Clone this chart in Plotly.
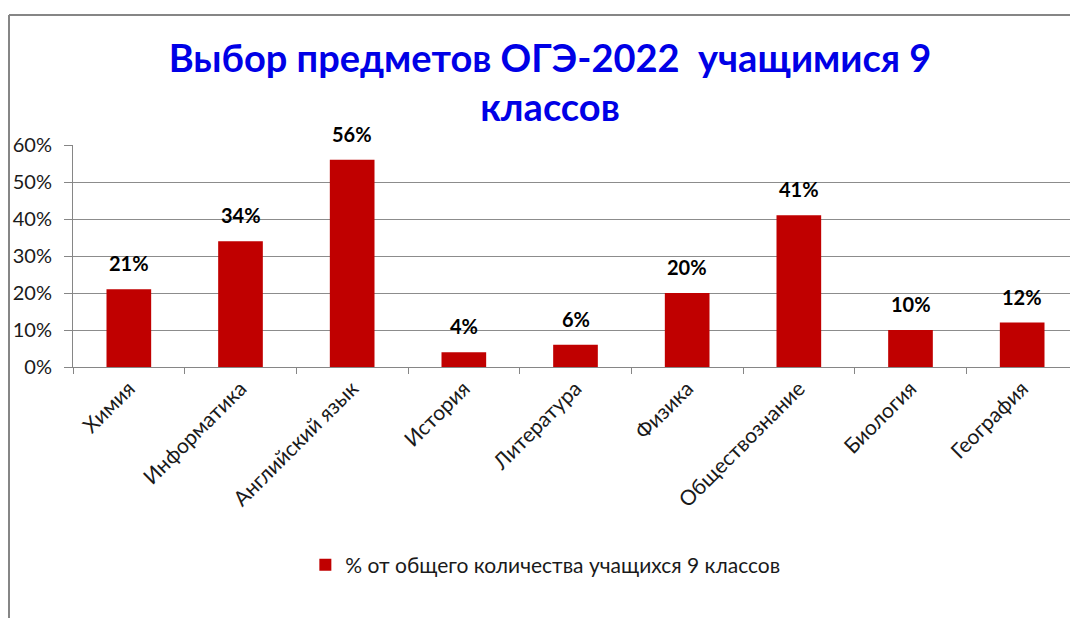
import plotly.graph_objects as go

categories = ["Химия", "Информатика", "Английский язык", "История", "Литература",
              "Физика", "Обществознание", "Биология", "География"]
values = [0.21, 0.34, 0.56, 0.04, 0.06, 0.20, 0.41, 0.10, 0.12]
series_name = "% от общего количества учащихся 9 классов"
title_text = "Выбор предметов ОГЭ-2022  учащимися 9<br>классов"
y_ticks = [0, 0.1, 0.2, 0.3, 0.4, 0.5, 0.6]
y_tick_labels = ["0%", "10%", "20%", "30%", "40%", "50%", "60%"]

FONT = "Lato"
OFF = 8  # page body margin
W, H = 1078 - OFF, 626 - 2 * OFF
L, R, T = 73 - OFF, 0, 145 - OFF
B = H - (367 - OFF)
pw = W - L - R
ph = H - T - B

fig = go.Figure()
fig.add_trace(go.Bar(
    x=categories, y=values, name=series_name,
    marker=dict(color="#C00000", line=dict(width=0)),
    showlegend=True,
))

for c, v in zip(categories, values):
    fig.add_annotation(x=c, y=v, text=f"<b>{round(v*100)}%</b>", showarrow=False,
                       yanchor="bottom", yshift=12,
                       font=dict(family=FONT, size=20, color="#000000"))

# outer chart border (left and top edges visible in the reference)
bx = (1 - L) / pw
by = (H - B - 7) / ph
fig.add_shape(type="line", xref="paper", yref="paper", x0=bx, x1=1.0, y0=by, y1=by,
              line=dict(color="#868686", width=2), layer="below")
fig.add_shape(type="line", xref="paper", yref="paper", x0=bx, x1=bx, y0=by, y1=-B / ph,
              line=dict(color="#868686", width=2), layer="below")

fig.update_layout(
    width=W, height=H,
    margin=dict(l=L, r=R, t=T, b=B, autoexpand=False),
    paper_bgcolor="white", plot_bgcolor="white",
    bargap=0.6,
    title=dict(text=f"<b>{title_text}</b>", x=(550 - 73) / (1078 - 73), xref="paper", xanchor="center",
               y=1 - 64 / H, yref="container", yanchor="top",
               font=dict(family=FONT, size=38, color="#0000E6"), automargin=False),
    legend=dict(orientation="h", x=0.47, xanchor="center", y=-(565 - 367) / ph, yanchor="middle",
                font=dict(family=FONT, size=21, color="#1a1a1a"), itemwidth=30),
    xaxis=dict(showline=True, linecolor="#868686", linewidth=1, automargin=False,
               ticks="outside", tickson="boundaries", ticklen=6, tickcolor="#868686",
               tickangle=-45, tickfont=dict(family=FONT, size=21, color="#1a1a1a"),
               showgrid=False),
    yaxis=dict(range=[0, 0.6], tickvals=y_ticks, ticktext=y_tick_labels, automargin=False,
               showline=True, linecolor="#868686", linewidth=1,
               ticks="outside", ticklen=8, tickcolor="#868686", ticklabelstandoff=8,
               showgrid=True, gridcolor="#8c8c8c", gridwidth=1,
               tickfont=dict(family=FONT, size=20, color="#1a1a1a"), zeroline=False),
)

fig.write_html("out.html")
